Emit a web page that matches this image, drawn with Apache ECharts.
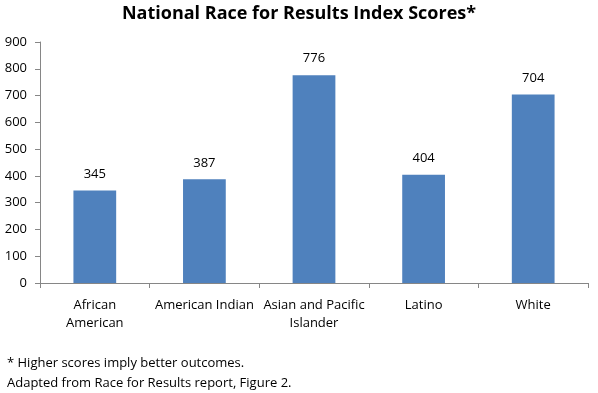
<!DOCTYPE html>
<html><head><meta charset="utf-8">
<script src="https://cdn.jsdelivr.net/npm/echarts@6/dist/echarts.min.js"></script>
<style>html,body{margin:0;padding:0;background:#fff}#c{width:598px;height:393px}</style>
</head><body><div id="c"></div>
<script>
const categories = ["African\nAmerican", "American Indian", "Asian and Pacific\nIslander", "Latino", "White"];
const scores = [345, 387, 776, 404, 704];
const yTicks = [0, 100, 200, 300, 400, 500, 600, 700, 800, 900];
const titleText = "National Race for Results Index Scores*";
const note1 = "* Higher scores imply better outcomes.";
const note2 = "Adapted from Race for Results report, Figure 2.";

const FONT = "'Open Sans', 'Noto Sans', sans-serif";
const chart = echarts.init(document.getElementById('c'), null, {renderer: 'canvas'});
chart.setOption({
  animation: false,
  backgroundColor: '#fff',
  title: {
    text: titleText, left: 'center', top: 0,
    textStyle: {fontFamily: FONT, fontSize: 18, fontWeight: 'bold', color: '#000'}
  },
  graphic: [
    {type: 'text', left: 7, top: 357, style: {text: note1, font: "13px " + FONT, fill: '#000'}},
    {type: 'text', left: 7, top: 377, style: {text: note2, font: "13px " + FONT, fill: '#000'}}
  ],
  grid: {left: 40, right: 10, top: 42, bottom: 110, containLabel: false},
  xAxis: {
    type: 'category', data: categories,
    axisLine: {lineStyle: {color: '#868686'}},
    axisTick: {show: true, alignWithLabel: false, length: 5, lineStyle: {color: '#868686'}},
    axisLabel: {interval: 0, color: '#000', fontFamily: FONT, fontSize: 13, margin: 13, lineHeight: 18}
  },
  yAxis: {
    type: 'value', min: yTicks[0], max: yTicks[yTicks.length - 1], interval: 100,
    splitLine: {show: false},
    axisLine: {show: true, lineStyle: {color: '#868686'}},
    axisTick: {show: true, inside: false, length: 5, lineStyle: {color: '#868686'}},
    axisLabel: {color: '#000', fontFamily: FONT, fontSize: 13, margin: 13}
  },
  series: [{
    type: 'bar', data: scores, barWidth: '39%',
    itemStyle: {color: '#4F81BD'},
    label: {show: true, position: 'top', distance: 10, color: '#000', fontFamily: FONT, fontSize: 13}
  }]
});
</script></body></html>
